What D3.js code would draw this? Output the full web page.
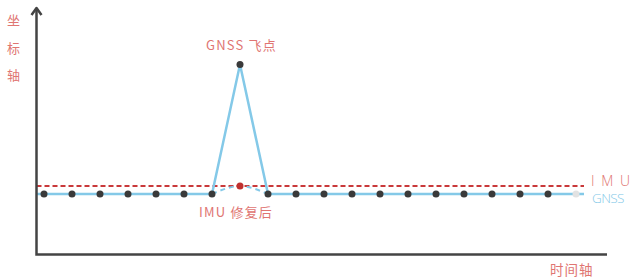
<!DOCTYPE html>
<html><head><meta charset="utf-8">
<script src="https://cdn.jsdelivr.net/npm/d3@7"></script>
<style>body{margin:0;background:#fff}svg{display:block}</style>
</head><body>
<svg id="c" width="635" height="280"></svg>
<script>
// ---- data ----
const timeIndex = d3.range(0, 20);               // sample positions on the time axis
const gnssValues = [2.5,2.5,2.5,2.5,2.5,2.5,2.5,7.9,2.5,2.5,2.5,2.5,2.5,2.5,2.5,2.5,2.5,2.5,2.5,2.5];
const imuLevel = 2.83;
const outlierIndex = 7;
const repairedValue = 2.83;
const yAxisLabel = ["坐","标","轴"];
const xAxisLabel = "时间轴";
const outlierLabel = "GNSS 飞点";
const repairLabel = "IMU 修复后";
const seriesLabels = ["I M U", "GNSS"];

// ---- layout ----
const svg = d3.select("#c");
const axisX = 36.5, axisBottom = 254.5, axisTop = 8, axisRight = 607;
const x = d3.scaleLinear().domain([0, 19]).range([44, 576]);
const y = d3.scaleLinear().domain([0, 10]).range([254, 14]);
const lineLeft = axisX, lineRight = 584;

const red = "#e07572", blue = "#84c9e8", dark = "#3a3a3a";
const cjk = "'Noto Sans CJK SC','Noto Sans',sans-serif";

// IMU dashed line
svg.append("line").attr("x1", lineLeft).attr("x2", lineRight)
  .attr("y1", y(imuLevel)).attr("y2", y(imuLevel))
  .attr("stroke", "#c9393a").attr("stroke-width", 2).attr("stroke-dasharray", "5,3");

// GNSS solid line
const pts = [[lineLeft, gnssValues[0]]].concat(timeIndex.map(i => [x(i), gnssValues[i]])).concat([[lineRight, gnssValues[19]]]);
svg.append("path")
  .attr("d", d3.line().x(d => d[0]).y(d => y(d[1]))(pts))
  .attr("fill", "none").attr("stroke", blue).attr("stroke-width", 2.5).attr("stroke-linejoin", "round");

// dashed repaired curve
svg.append("path")
  .attr("d", d3.line().curve(d3.curveNatural).x(d => x(d[0])).y(d => y(d[1]))([
    [outlierIndex - 1, gnssValues[outlierIndex - 1]],
    [outlierIndex, repairedValue],
    [outlierIndex + 1, gnssValues[outlierIndex + 1]]]))
  .attr("fill", "none").attr("stroke", blue).attr("stroke-width", 2).attr("stroke-dasharray", "5,4");

// GNSS dots
svg.selectAll("circle.g").data(timeIndex).join("circle").attr("class", "g")
  .attr("cx", i => x(i)).attr("cy", i => y(gnssValues[i])).attr("r", 3.5)
  .attr("fill", i => i === 19 ? "#e2e2e2" : dark);

// repaired dot
svg.append("circle").attr("cx", x(outlierIndex)).attr("cy", y(repairedValue)).attr("r", 3.5).attr("fill", "#c0302e");

// axes
svg.append("path").attr("d", `M${axisX},${axisTop + 2}V${axisBottom}H${axisRight}`)
  .attr("fill", "none").attr("stroke", "#444").attr("stroke-width", 2.5);
svg.append("path").attr("d", `M${axisX - 5},${axisTop + 7}L${axisX},${axisTop}L${axisX + 5},${axisTop + 7}`)
  .attr("fill", "none").attr("stroke", "#444").attr("stroke-width", 2.5).attr("stroke-linejoin", "round");

// labels
svg.selectAll("text.ya").data(yAxisLabel).join("text").attr("class", "ya")
  .attr("x", 13.5).attr("y", (d, i) => 25 + i * 27.5).attr("text-anchor", "middle")
  .attr("font-family", cjk).attr("font-size", 13).attr("fill", red).text(d => d);
svg.append("text").attr("x", 550).attr("y", 275)
  .attr("font-family", cjk).attr("font-size", 13.5).attr("letter-spacing", 1).attr("fill", red).text(xAxisLabel);
svg.append("text").attr("x", 206).attr("y", 50)
  .attr("font-family", cjk).attr("font-size", 13).attr("letter-spacing", 1.2).attr("fill", red).text(outlierLabel);
svg.append("text").attr("x", 199).attr("y", 217)
  .attr("font-family", cjk).attr("font-size", 13).attr("letter-spacing", 1.2).attr("fill", red).text(repairLabel);
svg.append("text").attr("x", 591).attr("y", 185.5)
  .attr("font-family", "'Open Sans',sans-serif").attr("font-size", 14).attr("font-weight", 300).attr("letter-spacing", 1.5).attr("fill", red).text(seriesLabels[0]);
svg.append("text").attr("x", 592).attr("y", 203)
  .attr("font-family", "'Open Sans',sans-serif").attr("font-size", 13.5).attr("font-weight", 300)
  .attr("letter-spacing", -0.6).attr("fill", blue).text(seriesLabels[1]);
</script>
</body></html>
